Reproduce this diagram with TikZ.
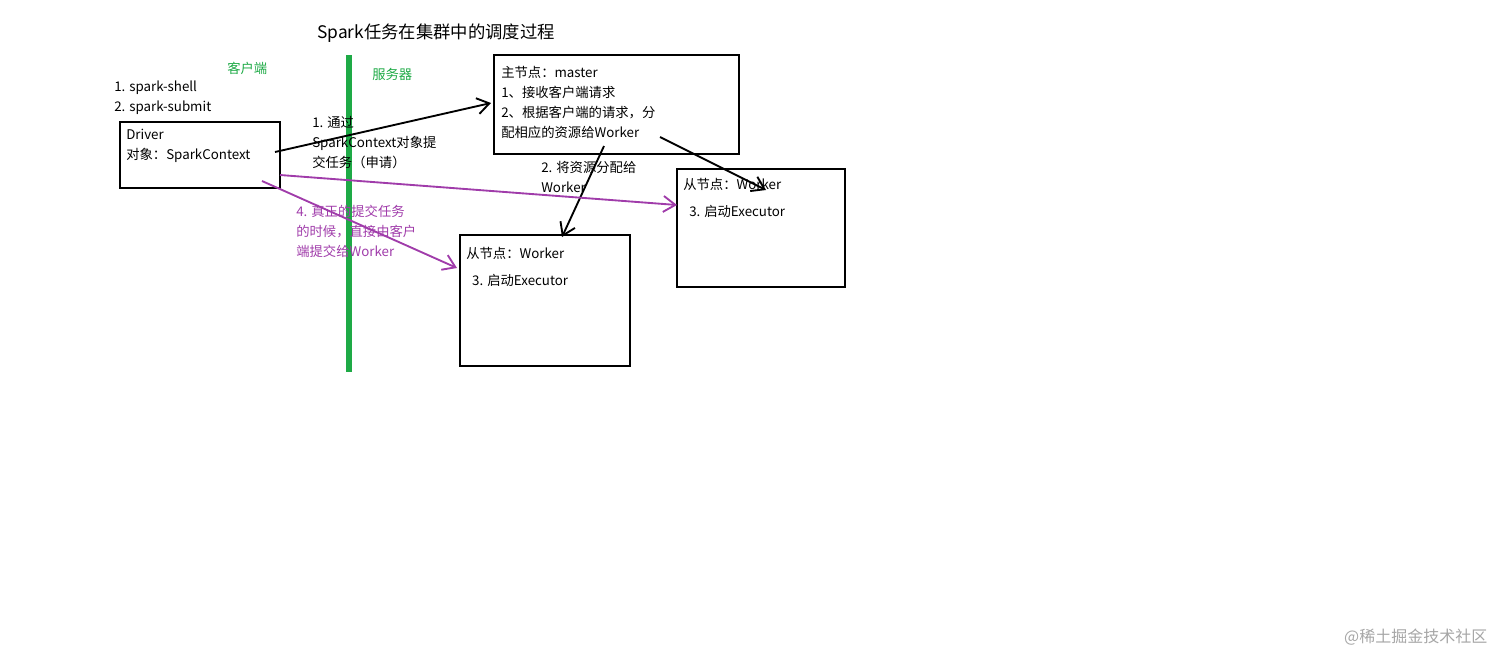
\documentclass[tikz,border=0pt]{standalone}
\usepackage{fontspec}
\setmainfont{Noto Sans CJK SC}
\usetikzlibrary{arrows.meta}
\definecolor{grn}{RGB}{30,170,70}
\definecolor{pur}{RGB}{160,60,170}
\begin{document}
\begin{tikzpicture}[x=0.75pt,y=-0.75pt,
  box/.style={draw,line width=1.6pt},
  txt/.style={anchor=north west,align=left,inner sep=0pt,font=\fontsize{10}{15}\selectfont},
  arr/.style={line width=1.4pt,-{Straight Barb[length=9pt,width=12pt,line width=1.4pt]}}]
\useasboundingbox (0,0) rectangle (1512,669);
\node[anchor=center,font=\fontsize{13}{15}\selectfont] (title) at (436,33) {Spark任务在集群中的调度过程};
\draw[grn,line width=4pt] (349,55) coordinate (g1) -- (349,372) coordinate (g2);
\node[txt,text=grn] (cl) at (227,62) {客户端};
\node[txt,text=grn] (sv) at (372,68) {服务器};
\node[txt] (sh) at (114,81) {1. spark-shell\\2. spark-submit};
\draw[box] (120,122) rectangle (280,188);
\node[txt] (drv) at (126,129) {Driver\\对象：SparkContext};
\draw[box] (494,55) rectangle (739,154);
\node[txt] (mst) at (501,66) {主节点：master\\1、接收客户端请求\\2、根据客户端的请求，分\\配相应的资源给Worker};
\draw[box] (677,169) rectangle (845,287);
\node[txt] (w2) at (683,178) {从节点：Worker\\[5pt]\ \ 3. 启动Executor};
\draw[box] (460,235) rectangle (630,366);
\node[txt] (w1) at (466,247) {从节点：Worker\\[5pt]\ \ 3. 启动Executor};
\node[txt] (l1) at (312,116) {1. 通过\\SparkContext对象提\\交任务（申请）};
\node[txt] (l2) at (541,161) {2. 将资源分配给\\Worker};
\node[txt,text=pur] (l4) at (296,205) {4. 真正的提交任务\\的时候，直接由客户\\端提交给Worker};
\coordinate (a1) at (275,152); \coordinate (b1) at (491,103);
\coordinate (a2) at (660,137); \coordinate (b2) at (766,190);
\coordinate (a3) at (604,146); \coordinate (b3) at (562,237);
\coordinate (a4) at (280,175); \coordinate (b4) at (677,205);
\coordinate (a5) at (262,181); \coordinate (b5) at (457,268);
\draw[arr] (a1) -- (b1);
\draw[arr] (a2) -- (b2);
\draw[arr] (a3) -- (b3);
\draw[arr,pur] (a4) -- (b4);
\draw[arr,pur] (a5) -- (b5);
\node[anchor=east,text=black!35,font=\fontsize{12}{14}\selectfont] (wm) at (1492,637) {@稀土掘金技术社区};
\end{tikzpicture}
\end{document}
